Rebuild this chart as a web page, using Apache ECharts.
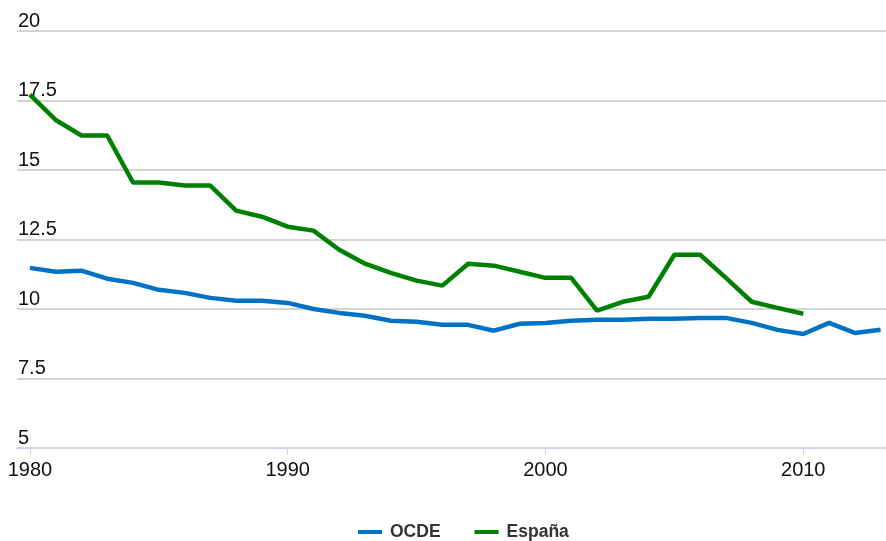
<!DOCTYPE html>
<html>
<head>
<meta charset="utf-8">
<script src="https://cdn.jsdelivr.net/npm/echarts@6/dist/echarts.min.js"></script>
<style>
html,body{margin:0;padding:0;background:#fff;}
#chart{width:886px;height:541px;}
</style>
</head>
<body>
<div id="chart"></div>
<script>
var years = [1980,1981,1982,1983,1984,1985,1986,1987,1988,1989,1990,1991,1992,1993,1994,1995,1996,1997,1998,1999,2000,2001,2002,2003,2004,2005,2006,2007,2008,2009,2010,2011,2012,2013];
var ocde = [11.48,11.34,11.38,11.09,10.94,10.69,10.58,10.40,10.30,10.30,10.22,10.00,9.86,9.76,9.58,9.54,9.43,9.43,9.22,9.47,9.50,9.58,9.61,9.61,9.65,9.65,9.68,9.68,9.50,9.25,9.10,9.50,9.14,9.25];
var espana = [17.71,16.80,16.24,16.24,14.55,14.55,14.44,14.44,13.54,13.32,12.96,12.82,12.13,11.63,11.30,11.02,10.84,11.63,11.56,11.34,11.12,11.12,9.94,10.26,10.44,11.95,11.95,11.12,10.26,10.04,9.83];
var xTickLabels = [1980,1990,2000,2010];
var yTicks = [5,7.5,10,12.5,15,17.5,20];

function pairs(vals){ return vals.map(function(v,i){ return [years[i], v]; }); }

var chart = echarts.init(document.getElementById('chart'), null, {renderer:'canvas'});
chart.setOption({
  animation: false,
  backgroundColor: '#ffffff',
  textStyle: {fontFamily: 'Liberation Sans, Arial, sans-serif'},
  grid: {left: 17, right: 0, top: 31, bottom: 93, containLabel: false},
  xAxis: {
    type: 'value',
    min: 1979.5,
    max: 2013.21,
    axisLine: {show: true, lineStyle: {color: '#ccd6eb', width: 1.5}},
    axisTick: {show: true, length: 7, lineStyle: {color: '#ccd6eb', width: 1}, customValues: xTickLabels},
    axisLabel: {customValues: xTickLabels, fontSize: 20, color: '#111111', margin: 12,
      fontFamily: 'Liberation Sans, Arial, sans-serif',
      formatter: function(v){ return String(v); }},
    splitLine: {show: false}
  },
  yAxis: {
    type: 'value',
    min: yTicks[0],
    max: yTicks[yTicks.length-1],
    interval: 2.5,
    axisLine: {show: false},
    axisTick: {show: false},
    axisLabel: {inside: true, margin: 1, fontSize: 20, color: '#111111', verticalAlign: 'bottom',
      padding: [0,0,0,0], fontFamily: 'Liberation Sans, Arial, sans-serif',
      formatter: function(v){ return String(v); }},
    splitLine: {show: true, lineStyle: {color: '#c6c6c6', width: 1.5}}
  },
  legend: {
    left: 353,
    top: 518,
    itemGap: 34,
    itemWidth: 24,
    itemHeight: 4,
    icon: 'rect',
    textStyle: {fontSize: 17.5, fontWeight: 'bold', color: '#333333', padding: [0,0,0,3],
      fontFamily: 'Liberation Sans, Arial, sans-serif'},
    data: ['OCDE','España']
  },
  series: [
    {name: 'OCDE', type: 'line', data: pairs(ocde), showSymbol: false, color: '#0072C6',
      lineStyle: {width: 4.5, color: '#0072C6'}, z: 3},
    {name: 'España', type: 'line', data: pairs(espana), showSymbol: false, color: '#008000',
      lineStyle: {width: 4.5, color: '#008000'}, z: 3}
  ]
});
</script>
</body>
</html>
